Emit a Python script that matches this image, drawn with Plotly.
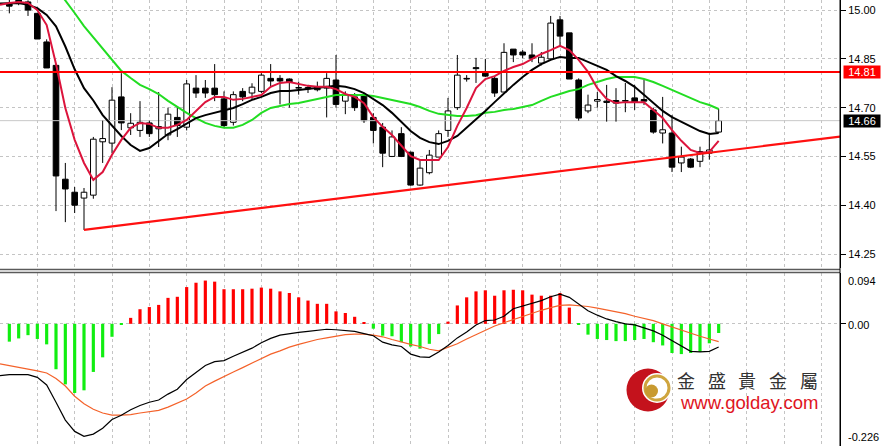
import plotly.graph_objects as go

# ---------------- data ----------------
opens = [15.020, 15.032, 15.025, 14.990, 14.902, 14.830, 14.480, 14.440, 14.422, 14.431,
         14.595, 14.591, 14.733, 14.638, 14.630, 14.653, 14.635, 14.616, 14.670, 14.640,
         14.760, 14.760, 14.760, 14.727, 14.655, 14.750, 14.745, 14.750, 14.790, 14.790,
         14.788, 14.760, 14.758, 14.765, 14.760, 14.785, 14.720, 14.733, 14.740, 14.670,
         14.640, 14.550, 14.620, 14.563, 14.462, 14.500, 14.548, 14.630, 14.700, 14.790,
         14.823, 14.806, 14.790, 14.748, 14.880, 14.871, 14.862, 14.837, 14.850, 14.970,
         14.930, 14.785, 14.690, 14.720, 14.720, 14.722, 14.722, 14.730, 14.725, 14.693,
         14.622, 14.622, 14.530, 14.542, 14.535, 14.560, 14.625]
highs = [15.040, 15.040, 15.030, 14.991, 14.910, 14.835, 14.530, 14.456, 14.453, 14.610,
         14.660, 14.763, 14.806, 14.683, 14.720, 14.660, 14.748, 14.700, 14.700, 14.785,
         14.800, 14.785, 14.834, 14.750, 14.750, 14.760, 14.775, 14.806, 14.834, 14.800,
         14.790, 14.780, 14.770, 14.780, 14.806, 14.862, 14.750, 14.745, 14.745, 14.683,
         14.653, 14.630, 14.640, 14.565, 14.540, 14.570, 14.630, 14.730, 14.862, 14.800,
         14.853, 14.850, 14.797, 14.898, 14.880, 14.877, 14.898, 14.871, 14.982, 14.982,
         14.930, 14.790, 14.740, 14.748, 14.770, 14.760, 14.776, 14.770, 14.785, 14.700,
         14.733, 14.677, 14.580, 14.545, 14.580, 14.622, 14.697]
lows = [14.990, 15.015, 14.982, 14.911, 14.822, 14.382, 14.348, 14.376, 14.324, 14.420,
        14.530, 14.560, 14.631, 14.616, 14.610, 14.610, 14.579, 14.600, 14.610, 14.630,
        14.730, 14.730, 14.720, 14.640, 14.645, 14.720, 14.725, 14.745, 14.763, 14.710,
        14.700, 14.740, 14.745, 14.750, 14.670, 14.700, 14.680, 14.690, 14.653, 14.590,
        14.517, 14.548, 14.548, 14.460, 14.460, 14.495, 14.548, 14.610, 14.693, 14.780,
        14.776, 14.794, 14.733, 14.748, 14.840, 14.852, 14.840, 14.830, 14.846, 14.886,
        14.788, 14.660, 14.683, 14.700, 14.657, 14.657, 14.686, 14.693, 14.708, 14.620,
        14.590, 14.502, 14.502, 14.514, 14.517, 14.540, 14.622]
closes = [15.012, 15.020, 15.000, 14.911, 14.822, 14.490, 14.450, 14.400, 14.440, 14.603,
          14.605, 14.723, 14.653, 14.652, 14.655, 14.620, 14.642, 14.680, 14.645, 14.773,
          14.745, 14.745, 14.740, 14.645, 14.740, 14.733, 14.763, 14.800, 14.782, 14.782,
          14.778, 14.762, 14.762, 14.755, 14.790, 14.710, 14.738, 14.700, 14.660, 14.630,
          14.560, 14.610, 14.550, 14.462, 14.514, 14.554, 14.620, 14.690, 14.800, 14.788,
          14.820, 14.797, 14.745, 14.870, 14.862, 14.862, 14.852, 14.855, 14.960, 14.920,
          14.788, 14.668, 14.708, 14.725, 14.716, 14.714, 14.720, 14.717, 14.720, 14.625,
          14.632, 14.517, 14.548, 14.517, 14.565, 14.570, 14.660]

# indicator lines start one bar earlier (at the left edge of the window)
line_start = -1
ma_fast = [15.016,
           15.022, 15.025, 15.022, 15.000, 14.954, 14.834, 14.699, 14.601, 14.530, 14.478,
           14.502, 14.555, 14.601, 14.638, 14.653, 14.650, 14.638, 14.638, 14.647, 14.662,
           14.690, 14.717, 14.733, 14.733, 14.724, 14.727, 14.733, 14.739, 14.764, 14.776,
           14.779, 14.773, 14.767, 14.764, 14.764, 14.757, 14.742, 14.733, 14.714, 14.671,
           14.641, 14.616, 14.582, 14.551, 14.539, 14.539, 14.539, 14.579, 14.644, 14.699,
           14.760, 14.788, 14.797, 14.813, 14.825, 14.834, 14.850, 14.865, 14.877, 14.890,
           14.877, 14.847, 14.810, 14.760, 14.727, 14.714, 14.717, 14.717, 14.717, 14.693,
           14.668, 14.631, 14.598, 14.570, 14.561, 14.564, 14.598]
ma_mid = [15.020,
          15.022, 15.022, 15.016, 15.006, 14.985, 14.950, 14.888, 14.818, 14.760, 14.722,
          14.677, 14.644, 14.613, 14.585, 14.567, 14.576, 14.598, 14.619, 14.634, 14.650,
          14.668, 14.677, 14.684, 14.690, 14.699, 14.711, 14.724, 14.733, 14.745, 14.751,
          14.751, 14.754, 14.757, 14.761, 14.764, 14.767, 14.764, 14.757, 14.745, 14.727,
          14.708, 14.684, 14.656, 14.628, 14.607, 14.594, 14.588, 14.598, 14.613, 14.638,
          14.662, 14.690, 14.717, 14.745, 14.770, 14.794, 14.816, 14.834, 14.847, 14.856,
          14.853, 14.853, 14.840, 14.828, 14.816, 14.797, 14.782, 14.764, 14.739, 14.714,
          14.690, 14.671, 14.656, 14.641, 14.628, 14.619, 14.622]
ma_slow = [None, None, None, None, None, None,
           15.068, 15.031, 14.991, 14.951, 14.917, 14.883, 14.847, 14.813, 14.791, 14.770,
           14.757, 14.742, 14.721, 14.702, 14.684, 14.668, 14.653, 14.644, 14.638, 14.638,
           14.647, 14.662, 14.684, 14.699, 14.705, 14.711, 14.714, 14.721, 14.727, 14.733,
           14.739, 14.739, 14.739, 14.739, 14.736, 14.730, 14.724, 14.717, 14.711, 14.702,
           14.690, 14.681, 14.677, 14.674, 14.674, 14.677, 14.684, 14.687, 14.693, 14.696,
           14.702, 14.708, 14.721, 14.733, 14.742, 14.751, 14.757, 14.770, 14.779, 14.788,
           14.794, 14.794, 14.794, 14.788, 14.779, 14.767, 14.754, 14.742, 14.730, 14.717,
           14.708, 14.696]

resistance_level = 14.81
last_price = 14.66
trend_x = [8, 89]
trend_y = [14.324, 14.611]

macd_hist = [-0.033, -0.027, -0.021, -0.028, -0.038, -0.084, -0.112, -0.128, -0.123, -0.089,
             -0.062, -0.024, -0.002, 0.011, 0.027, 0.031, 0.035, 0.048, 0.050, 0.068,
             0.076, 0.080, 0.078, 0.064, 0.064, 0.064, 0.065, 0.067, 0.065, 0.060,
             0.057, 0.049, 0.043, 0.037, 0.037, 0.023, 0.020, 0.013, 0.002, -0.009,
             -0.022, -0.023, -0.034, -0.042, -0.046, -0.037, -0.019, 0.004, 0.034, 0.049,
             0.060, 0.062, 0.052, 0.062, 0.063, 0.062, 0.054, 0.052, 0.052, 0.057,
             0.030, -0.002, -0.020, -0.028, -0.030, -0.032, -0.032, -0.030, -0.028, -0.034,
             -0.040, -0.054, -0.056, -0.054, -0.052, -0.036, -0.017]
macd_main = [-0.096,
             -0.094, -0.094, -0.094, -0.099, -0.113, -0.145, -0.178, -0.199, -0.208, -0.204,
             -0.193, -0.177, -0.169, -0.159, -0.151, -0.145, -0.141, -0.130, -0.121, -0.103,
             -0.090, -0.077, -0.070, -0.068, -0.060, -0.052, -0.045, -0.035, -0.027, -0.021,
             -0.018, -0.016, -0.014, -0.012, -0.010, -0.011, -0.012, -0.014, -0.018, -0.022,
             -0.034, -0.039, -0.042, -0.056, -0.061, -0.062, -0.052, -0.040, -0.026, -0.015,
             -0.002, 0.006, 0.007, 0.014, 0.028, 0.033, 0.037, 0.043, 0.050, 0.055,
             0.049, 0.037, 0.024, 0.016, 0.009, 0.004, 0.000, -0.002, -0.007, -0.013,
             -0.021, -0.031, -0.042, -0.051, -0.052, -0.051, -0.043]
macd_signal = [-0.074,
               -0.077, -0.081, -0.084, -0.087, -0.091, -0.101, -0.115, -0.134, -0.148, -0.158,
               -0.165, -0.169, -0.169, -0.168, -0.165, -0.163, -0.160, -0.154, -0.147, -0.139,
               -0.128, -0.115, -0.106, -0.097, -0.089, -0.081, -0.073, -0.064, -0.056, -0.050,
               -0.043, -0.038, -0.033, -0.029, -0.026, -0.023, -0.020, -0.019, -0.019, -0.021,
               -0.024, -0.029, -0.034, -0.038, -0.042, -0.047, -0.050, -0.044, -0.037, -0.028,
               -0.020, -0.012, -0.004, 0.002, 0.008, 0.014, 0.019, 0.025, 0.030, 0.034,
               0.035, 0.034, 0.032, 0.029, 0.026, 0.023, 0.019, 0.014, 0.010, 0.006,
               0.000, -0.006, -0.011, -0.017, -0.023, -0.028, -0.033]

price_ticks = [15.00, 14.85, 14.70, 14.55, 14.40, 14.25]
price_tick_text = ["15.00", "14.85", "14.70", "14.55", "14.40", "14.25"]
macd_labels = ["0.094", "0.00", "-0.226"]
brand_chars = ["金", "盛", "貴", "金", "屬"]
brand_url = "www.golday.com"

# ---------------- layout geometry ----------------
W, H = 889, 446
PLOT_W = 840
MAIN_BOTTOM_PX = 268
SUB_TOP_PX = 273


def px_x(x):
    return x / PLOT_W


def px_y(y):
    return 1 - y / H


idx = list(range(len(opens)))
line_idx = list(range(line_start, len(opens)))
grid_x = list(range(3, 90, 4))
GRID = "#c4c4c4"

fig = go.Figure()

# last price line (light gray)
fig.add_trace(go.Scatter(x=[-1, 89], y=[last_price, last_price], mode="lines",
                         line=dict(color="#c8c8c8", width=1), hoverinfo="skip",
                         xaxis="x", yaxis="y"))

# candle wicks (not crossing the bodies)
wx, wy = [], []
for i, (o, h, l, c) in enumerate(zip(opens, highs, lows, closes)):
    top, bot = max(o, c), min(o, c)
    wx += [i, i, None, i, i, None]
    wy += [h, top, None, bot, l, None]
fig.add_trace(go.Scatter(x=wx, y=wy, mode="lines", line=dict(color="black", width=1),
                         hoverinfo="skip", xaxis="x", yaxis="y"))

# candle bodies
body_base = [min(o, c) for o, c in zip(opens, closes)]
body_h = [max(abs(c - o), 0.0015) for o, c in zip(opens, closes)]
body_col = ["white" if c >= o else "black" for o, c in zip(opens, closes)]
fig.add_trace(go.Bar(x=idx, y=body_h, base=body_base, width=0.6,
                     marker=dict(color=body_col, line=dict(color="black", width=1)),
                     hoverinfo="skip", xaxis="x", yaxis="y"))

# moving averages
fig.add_trace(go.Scatter(x=line_idx, y=ma_slow, mode="lines", line=dict(color="#22dd22", width=2),
                         hoverinfo="skip", xaxis="x", yaxis="y"))
fig.add_trace(go.Scatter(x=line_idx, y=ma_mid, mode="lines", line=dict(color="#000000", width=2),
                         hoverinfo="skip", xaxis="x", yaxis="y"))
fig.add_trace(go.Scatter(x=line_idx, y=ma_fast, mode="lines", line=dict(color="#dc143c", width=2),
                         hoverinfo="skip", xaxis="x", yaxis="y"))

# resistance and trend line
fig.add_trace(go.Scatter(x=[-1, 89], y=[resistance_level, resistance_level], mode="lines",
                         line=dict(color="#ff0000", width=2), hoverinfo="skip",
                         xaxis="x", yaxis="y"))
fig.add_trace(go.Scatter(x=trend_x, y=trend_y, mode="lines",
                         line=dict(color="#ff1010", width=2.2), hoverinfo="skip",
                         xaxis="x", yaxis="y"))

# MACD histogram and lines
hist_col = ["#ff0000" if v >= 0 else "#11ee11" for v in macd_hist]
fig.add_trace(go.Bar(x=idx, y=macd_hist, width=0.34, marker=dict(color=hist_col, line=dict(width=0)),
                     hoverinfo="skip", xaxis="x2", yaxis="y2"))
fig.add_trace(go.Scatter(x=line_idx, y=macd_signal, mode="lines", line=dict(color="#f4622a", width=1.2),
                         hoverinfo="skip", xaxis="x2", yaxis="y2"))
fig.add_trace(go.Scatter(x=line_idx, y=macd_main, mode="lines", line=dict(color="#000000", width=1.2),
                         hoverinfo="skip", xaxis="x2", yaxis="y2"))

axis_font = dict(family="Liberation Sans, Arial, sans-serif", size=11, color="black")

fig.update_layout(
    width=W, height=H,
    margin=dict(l=0, r=W - PLOT_W, t=0, b=0),
    paper_bgcolor="white", plot_bgcolor="white",
    showlegend=False, barmode="overlay",
    xaxis=dict(domain=[0, 1], range=[-1, 89], anchor="y", tickvals=grid_x,
               showticklabels=False, ticks="", showgrid=True, gridcolor=GRID,
               griddash="3px,3px", gridwidth=1, zeroline=False, showline=False),
    yaxis=dict(domain=[px_y(MAIN_BOTTOM_PX), 1], range=[14.207, 15.031], anchor="x",
               side="right", tickvals=price_ticks, ticktext=price_tick_text,
               showgrid=True, gridcolor=GRID, griddash="3px,3px", gridwidth=1,
               zeroline=False, showline=True, linecolor="black", linewidth=1,
               ticks="outside", ticklen=5, tickcolor="black", tickfont=axis_font),
    xaxis2=dict(domain=[0, 1], range=[-1, 89], anchor="y2", matches="x", tickvals=grid_x,
                showticklabels=False, ticks="", showgrid=True, gridcolor=GRID,
                griddash="3px,3px", gridwidth=1, zeroline=False, showline=False),
    yaxis2=dict(domain=[0, px_y(SUB_TOP_PX)], range=[-0.226, 0.094], anchor="x2",
                side="right", tickvals=[0], showticklabels=False,
                showgrid=True, gridcolor=GRID, griddash="3px,3px", gridwidth=1,
                zeroline=False, showline=True, linecolor="black", linewidth=1,
                ticks="outside", ticklen=5, tickcolor="black"),
)

annotations = []
# price boxes on the axis
annotations.append(dict(x=px_x(843), xref="paper", xanchor="left", y=resistance_level, yref="y",
                        text=f"{resistance_level:.2f}", showarrow=False, bgcolor="#ff0000",
                        font=dict(family="Liberation Sans, Arial", size=11, color="white"),
                        width=36, height=12, borderpad=0))
annotations.append(dict(x=px_x(843), xref="paper", xanchor="left", y=last_price, yref="y",
                        text=f"{last_price:.2f}", showarrow=False, bgcolor="#000000",
                        font=dict(family="Liberation Sans, Arial", size=11, color="white"),
                        width=36, height=12, borderpad=0))
# MACD scale labels (max at top edge, min at bottom edge)
macd_label_px = [281, 325, 437]
for txt, ypx in zip(macd_labels, macd_label_px):
    annotations.append(dict(x=px_x(846), xref="paper", xanchor="left", y=px_y(ypx), yref="paper",
                            yanchor="middle", text=txt, showarrow=False, font=axis_font))
# watermark text
char_centers = [686, 717, 747, 778, 809]
for ch, cx in zip(brand_chars, char_centers):
    annotations.append(dict(x=px_x(cx), xref="paper", y=px_y(380), yref="paper",
                            xanchor="center", yanchor="middle", text=ch, showarrow=False,
                            font=dict(family="Noto Sans CJK TC", size=18, color="#333333")))
annotations.append(dict(x=px_x(748.5), xref="paper", y=px_y(402), yref="paper",
                        xanchor="center", yanchor="middle", text=brand_url, showarrow=False,
                        font=dict(family="Liberation Sans, Arial", size=18.5, color="#e0141e")))
fig.update_layout(annotations=annotations)

shapes = []
# double separator between panels
for ypx in (269.5, 272.5):
    shapes.append(dict(type="line", xref="paper", yref="paper", x0=0, x1=1,
                       y0=px_y(ypx), y1=px_y(ypx), line=dict(color="#5a5a5a", width=1.5)))
# right axis line through the separator gap
shapes.append(dict(type="line", xref="paper", yref="paper", x0=1, x1=1, y0=0, y1=1,
                   line=dict(color="black", width=1)))


def circle(cx, cy, r, fill=None, line_color=None, line_width=0):
    d = dict(type="circle", xref="paper", yref="paper",
             x0=px_x(cx - r), x1=px_x(cx + r), y0=px_y(cy + r), y1=px_y(cy - r),
             line=dict(width=line_width, color=line_color or "rgba(0,0,0,0)"))
    if fill:
        d["fillcolor"] = fill
    return d


# watermark emblem
shapes.append(circle(648, 390, 21.5, fill="#c4121c"))
shapes.append(circle(657, 388, 15, fill="white"))
shapes.append(circle(657, 388, 12, line_color="#cfa53e", line_width=3))
shapes.append(circle(655, 390, 8.5, fill="white"))
shapes.append(circle(651.5, 391, 6.5, fill="#c89a30"))
fig.update_layout(shapes=shapes)

# remove the browser's default page margin so the figure sits at the window's corner
fig.write_html("out.html", config={"displayModeBar": False},
               post_script="document.body.style.margin='0px';")
